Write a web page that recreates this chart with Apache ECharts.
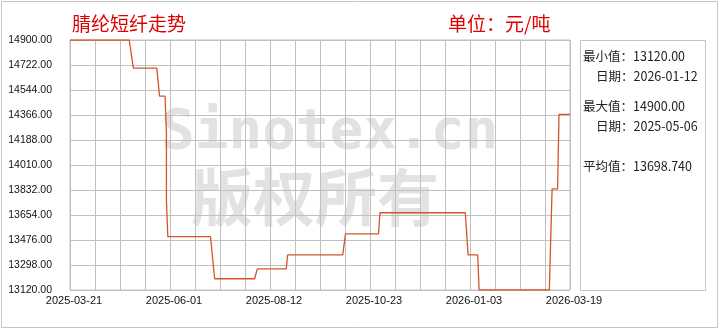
<!DOCTYPE html>
<html>
<head>
<meta charset="utf-8">
<script src="https://cdn.jsdelivr.net/npm/echarts@6/dist/echarts.min.js"></script>
<style>
html,body{margin:0;padding:0;background:#fff;}
#chart{width:720px;height:330px;}
</style>
</head>
<body>
<div id="chart"></div>
<script>
// ---- data ----
var startDate = '2025-03-21';
var endDate = '2026-03-19';
var dates = ['2025-03-21','2025-05-03','2025-05-06','2025-05-23','2025-05-25','2025-05-29','2025-05-30','2025-05-30','2025-05-31','2025-07-01','2025-07-04','2025-08-02','2025-08-04','2025-08-25','2025-08-26','2025-10-05','2025-10-07','2025-10-31','2025-11-01','2026-01-02','2026-01-04','2026-01-11','2026-01-12','2026-03-04','2026-03-06','2026-03-10','2026-03-11','2026-03-19'];
var values = [14900,14900,14700,14700,14500,14500,14240,13760,13500,13500,13200,13200,13270,13270,13370,13370,13520,13520,13670,13670,13370,13370,13120,13120,13840,13840,14370,14370];
var xTickLabels = ['2025-03-21','2025-06-01','2025-08-12','2025-10-23','2026-01-03','2026-03-19'];
var yMin = 13120, yMax = 14900, yStep = 178;
var titleText = '腈纶短纤走势';
var unitText = '单位：元/吨';
var statLabels = ['最小值：','日期：','最大值：','日期：','平均值：'];
var statValues = ['13120.00','2026-01-12','14900.00','2025-05-06','13698.740'];
var watermark1 = 'Sinotex.cn';
var watermark2 = '版权所有';

// ---- build ----
function dayOff(d){ return (Date.parse(d) - Date.parse(startDate)) / 86400000; }
var totalDays = dayOff(endDate);
var xStep = totalDays / 20;
var seriesData = dates.map(function(d,i){ return [dayOff(d), values[i]]; });

var chart = echarts.init(document.getElementById('chart'), null, {renderer:'canvas'});
var gridLeft = 70, gridTop = 40, gridW = 500, gridH = 250;
var statX = [583,596,583,596,583];
var statY = [56,76,106,126,166];
var graphics = [
  {type:'rect', shape:{x:1.5,y:1.5,width:716,height:326}, style:{fill:null, stroke:'#c4c4c4', lineWidth:1}, z:-20},
  {type:'text', x:161, y:133, z:-10, style:{text:watermark1, font:'bold 56px "DejaVu Sans Mono"', fill:'#e2e2e2', textVerticalAlign:'middle'}},
  {type:'text', x:191, y:197, z:-10, style:{text:watermark2, font:'bold 62px "Noto Sans CJK SC"', fill:'#e2e2e2', textVerticalAlign:'middle'}},
  {type:'text', x:72, y:24, style:{text:titleText, font:'19px "Noto Sans CJK SC"', fill:'#e00000', textVerticalAlign:'middle'}},
  {type:'text', x:448, y:24, style:{text:unitText, font:'19px "Noto Sans CJK SC"', fill:'#e00000', textVerticalAlign:'middle'}},
  {type:'rect', shape:{x:580.5,y:40.5,width:125,height:250}, style:{fill:null, stroke:'#c4c4c4', lineWidth:1}}
];
statLabels.forEach(function(l,i){
  graphics.push({type:'text', x:statX[i], y:statY[i], style:{text:l + statValues[i], font:'12.5px "Noto Sans CJK SC"', fill:'#222', textVerticalAlign:'middle'}});
});

var option = {
  animation:false,
  backgroundColor:'#fff',
  grid:{left:gridLeft, top:gridTop, width:gridW, height:gridH, show:true, borderColor:'#c0c0c0', borderWidth:1, containLabel:false},
  xAxis:{
    type:'value', min:0, max:totalDays, interval:xStep,
    axisLine:{show:false}, axisTick:{show:false},
    splitLine:{show:true, lineStyle:{color:'#c0c0c0', width:1}},
    axisLabel:{
      show:true, margin:5, color:'#111', fontSize:11, fontFamily:'Liberation Sans',
      showMinLabel:true, showMaxLabel:true, hideOverlap:false, padding:[0,0,0,8],
      formatter:function(v){
        var idx = Math.round(v / xStep);
        return (idx % 4 === 0) ? (xTickLabels[idx/4] || '') : '';
      }
    }
  },
  yAxis:{
    type:'value', min:yMin, max:yMax, interval:yStep,
    axisLine:{show:false}, axisTick:{show:false},
    splitLine:{show:true, lineStyle:{color:'#c0c0c0', width:1}},
    axisLabel:{margin:18, color:'#111', fontSize:10.5, fontFamily:'Liberation Sans', showMinLabel:true, showMaxLabel:true,
      formatter:function(v){ return v.toFixed(2); }}
  },
  series:[{
    type:'line', data:seriesData, showSymbol:false, symbol:'none',
    lineStyle:{color:'#d4552a', width:1.3}, z:5
  }],
  graphic:graphics
};
chart.setOption(option);
</script>
</body>
</html>
